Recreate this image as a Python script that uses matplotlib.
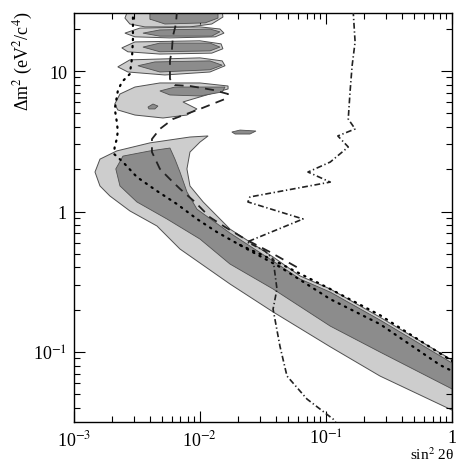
import numpy as np
import matplotlib
matplotlib.use("Agg")
import matplotlib.pyplot as plt
from matplotlib.ticker import FixedLocator, FixedFormatter, LogLocator, NullFormatter

plt.rcParams['font.family'] = ['Liberation Serif', 'DejaVu Serif']
plt.rcParams['mathtext.fontset'] = 'stix'

# allowed region (light gray, outer) : sin^2 2theta , dm^2
band_light_x = [1.0, 0.268, 0.108, 0.0622, 0.038, 0.0173, 0.0106, 8.33e-3, 7.88e-3, 8.33e-3,
                0.010, 0.0116, 8.33e-3, 4.01e-3, 2.19e-3, 1.61e-3, 1.47e-3, 1.61e-3, 1.93e-3,
                2.78e-3, 4.56e-3, 6.94e-3, 0.0173, 0.038, 0.108, 0.268, 1.0]
band_light_y = [0.0878, 0.177, 0.281, 0.348, 0.475, 0.750, 1.17, 1.52, 2.01, 2.65,
                3.12, 3.45, 3.39, 3.08, 2.70, 2.36, 1.91, 1.52, 1.29,
                1.01, 0.789, 0.541, 0.305, 0.193, 0.109, 0.0675, 0.0386]

# inner region (dark gray)
band_dark_x = [1.0, 0.268, 0.108, 0.0622, 0.038, 0.0173, 9.46e-3, 7.88e-3, 6.94e-3, 6.33e-3,
               5.78e-3, 4.01e-3, 2.45e-3, 2.15e-3, 2.32e-3, 3.16e-3, 5.47e-3, 0.010, 0.0173,
               0.038, 0.108, 0.268, 1.0]
band_dark_y = [0.0835, 0.169, 0.267, 0.331, 0.444, 0.703, 1.04, 1.38, 1.91, 2.36,
               2.83, 2.70, 2.48, 2.01, 1.52, 1.17, 0.885, 0.637, 0.423,
               0.281, 0.153, 0.100, 0.0546]

# islands at large dm^2 (light outline, dark core)
islands_light = [
    ([2.68e-3, 1.50e-2, 1.52e-2, 1.24e-2, 8.33e-3, 3.66e-3, 2.78e-3, 2.54e-3],
     [27, 27, 24.2, 21.6, 20.6, 20.6, 21.6, 23.8]),
    ([2.54e-3, 3.34e-3, 1.0e-2, 1.44e-2, 1.55e-2, 1.32e-2, 5.78e-3, 3.05e-3],
     [18.6, 20.2, 20.6, 19.9, 18.6, 17.5, 17.2, 17.5]),
    ([2.40e-3, 3.05e-3, 1.0e-2, 1.47e-2, 1.52e-2, 1.24e-2, 4.81e-3, 2.68e-3],
     [14.6, 16.1, 16.4, 15.6, 14.4, 13.4, 13.2, 13.7]),
    ([2.23e-3, 2.78e-3, 1.0e-2, 1.50e-2, 1.58e-2, 1.20e-2, 5.27e-3, 2.68e-3],
     [10.7, 12.0, 12.4, 11.8, 10.9, 9.84, 9.37, 9.84]),
    ([2.11e-3, 2.32e-3, 3.05e-3, 4.81e-3, 1.0e-2, 1.67e-2, 1.67e-2, 1.27e-2, 7.33e-3,
      9.46e-3, 7.88e-3, 5.09e-3, 3.05e-3, 2.23e-3],
     [5.82, 6.86, 7.69, 8.22, 8.22, 7.82, 7.45, 6.97, 6.02,
      5.37, 4.86, 4.63, 4.86, 5.28]),
]
islands_dark = [
    ([4.01e-3, 1.39e-2, 1.39e-2, 1.10e-2, 5.27e-3, 4.01e-3],
     [27, 27, 23.8, 22.0, 21.6, 23.4]),
    ([3.53e-3, 4.81e-3, 1.20e-2, 1.44e-2, 1.24e-2, 4.81e-3],
     [18.6, 19.6, 19.9, 19.0, 17.7, 17.7]),
    ([3.53e-3, 4.81e-3, 1.20e-2, 1.44e-2, 1.20e-2, 4.81e-3],
     [14.8, 15.8, 15.8, 14.8, 13.9, 13.7]),
    ([3.22e-3, 4.39e-3, 1.20e-2, 1.50e-2, 1.20e-2, 4.81e-3],
     [10.9, 11.6, 11.8, 11.0, 10.2, 9.84]),
    ([4.81e-3, 6.33e-3, 1.58e-2, 1.50e-2, 1.0e-2, 5.78e-3],
     [7.21, 7.69, 7.69, 7.09, 6.64, 6.75]),
    ([3.87e-3, 4.24e-3, 4.64e-3, 4.39e-3, 3.94e-3],
     [5.54, 5.82, 5.63, 5.37, 5.37]),
    ([1.79e-2, 2.08e-2, 2.78e-2, 2.49e-2, 1.90e-2],
     [3.68, 3.80, 3.74, 3.56, 3.56]),
]

# dotted limit curve
dot_x = [2.94e-3, 2.94e-3, 2.89e-3, 2.78e-3, 2.40e-3, 2.23e-3, 2.11e-3, 2.19e-3, 2.23e-3,
         2.19e-3, 2.11e-3, 2.08e-3, 2.45e-3, 3.16e-3, 4.56e-3, 6.57e-3, 9.46e-3, 1.36e-2,
         2.36e-2, 4.31e-2, 0.108, 0.268, 0.803, 1.0]
dot_y = [27, 16.9, 12.4, 9.53, 8.35, 7.21, 5.37, 4.34, 3.74,
         3.28, 2.93, 2.57, 2.25, 1.76, 1.40, 1.13, 0.885, 0.715,
         0.541, 0.403, 0.238, 0.158, 0.0808, 0.0733]
dot2_x = [2.08e-2, 3.80e-2, 0.108, 0.268, 1.0]
dot2_y = [0.578, 0.452, 0.281, 0.183, 0.0863]

# dashed curve
dash_x = [6.57e-3, 6.45e-3, 6.10e-3, 6.0e-3, 5.78e-3, 5.78e-3, 6.33e-3, 8.33e-3, 1.27e-2,
          1.67e-2, 1.58e-2, 1.0e-2, 6.10e-3, 4.81e-3, 4.16e-3, 4.16e-3, 4.81e-3, 5.78e-3,
          6.94e-3, 9.12e-3, 1.20e-2, 1.58e-2, 2.28e-2, 3.59e-2, 6.22e-2]
dash_y = [27, 21.6, 17.7, 14.4, 11.8, 8.78, 7.94, 7.82, 7.33,
          6.86, 6.32, 5.37, 4.55, 3.87, 3.28, 2.65, 2.01, 1.70,
          1.45, 1.17, 0.91, 0.776, 0.637, 0.515, 0.390]

# dash-dotted curve
dd_x = [0.164, 0.170, 0.161, 0.155, 0.150, 0.170, 0.124, 0.150, 0.108, 7.19e-2, 0.108,
        2.49e-2, 2.40e-2, 6.57e-2, 2.36e-2, 3.28e-2, 3.80e-2, 4.08e-2, 3.80e-2, 4.31e-2,
        4.90e-2, 7.06e-2, 0.114, 0.122]
dd_y = [27, 16.1, 10.9, 7.09, 4.55, 3.87, 3.45, 2.88, 2.25, 1.91, 1.62,
        1.27, 1.17, 0.885, 0.607, 0.524, 0.459, 0.281, 0.202, 0.110,
        0.0675, 0.0463, 0.0333, 0.0308]

x_ticks = [1e-3, 1e-2, 1e-1, 1]
x_labels = ['10$^{-3}$', '10$^{-2}$', '10$^{-1}$', '1']
y_ticks = [1e-1, 1, 10]
y_labels = ['10$^{-1}$', '1', '10']

light = '#cdcdcd'
dark = '#8c8c8c'
edge = '#505050'

fig = plt.figure(figsize=(4.59, 4.64), dpi=100)
ax = fig.add_axes([0.161, 0.0884, 0.824, 0.8816])
ax.set_xscale('log')
ax.set_yscale('log')

ax.fill(band_light_x, band_light_y, facecolor=light, edgecolor=edge, lw=0.7, zorder=1)
ax.fill(band_dark_x, band_dark_y, facecolor=dark, edgecolor=edge, lw=0.6, zorder=2)
for xs, ys in islands_light:
    ax.fill(xs, ys, facecolor=light, edgecolor=edge, lw=0.7, zorder=1)
for xs, ys in islands_dark:
    ax.fill(xs, ys, facecolor=dark, edgecolor=edge, lw=0.6, zorder=2)

ax.plot(dot_x, dot_y, color='black', lw=1.6, ls=(0, (0.6, 2.6)), dash_capstyle='round', zorder=3)
ax.plot(dot2_x, dot2_y, color='black', lw=1.6, ls=(0, (0.6, 2.6)), dash_capstyle='round', zorder=3)
ax.plot(dash_x, dash_y, color='#222222', lw=1.3, ls=(0, (5, 3.5)), zorder=3)
ax.plot(dd_x, dd_y, color='#222222', lw=1.2, ls=(0, (3.5, 1.6, 0.8, 1.6)), zorder=3)

ax.set_xlim(1e-3, 1)
ax.set_ylim(0.0318, 25.9)

ax.xaxis.set_major_locator(FixedLocator(x_ticks))
ax.xaxis.set_major_formatter(FixedFormatter(x_labels))
ax.yaxis.set_major_locator(FixedLocator(y_ticks))
ax.yaxis.set_major_formatter(FixedFormatter(y_labels))
for a in (ax.xaxis, ax.yaxis):
    a.set_minor_locator(LogLocator(base=10, subs=np.arange(2, 10)))
    a.set_minor_formatter(NullFormatter())
ax.tick_params(which='both', direction='in', top=True, right=True, width=0.8, labelsize=13)
ax.tick_params(which='major', length=8, pad=5)
ax.tick_params(which='minor', length=4)
for s in ax.spines.values():
    s.set_linewidth(1.0)

ax.text(1.005, -0.058, 'sin$^2$ 2θ', transform=ax.transAxes, ha='right', va='top', fontsize=11)
fig.text(0.052, 0.868, 'Δm$^2$ (eV$^2$/c$^4$)', rotation=90, ha='center', va='center', fontsize=13)

fig.savefig('out.png', dpi=100)
